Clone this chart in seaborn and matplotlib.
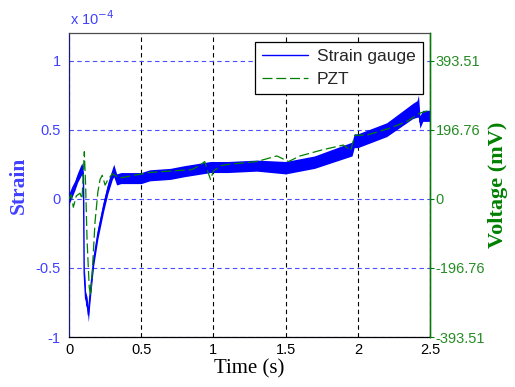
import numpy as np
import pandas as pd
import matplotlib
matplotlib.use("Agg")
import matplotlib.pyplot as plt
import seaborn as sns
from matplotlib.lines import Line2D

# ---------------- data ----------------
# Strain gauge (units of 1e-4): noisy band described by lower / upper envelope
strain_t = [0.00, 0.02, 0.04, 0.06, 0.08, 0.09, 0.10, 0.105, 0.115, 0.125, 0.134, 0.145,
            0.17, 0.20, 0.24, 0.27, 0.30, 0.31, 0.33, 0.36, 0.50, 0.56, 0.70, 0.80, 0.98,
            1.10, 1.30, 1.50, 1.70, 1.96, 1.975, 2.00, 2.20, 2.38, 2.41, 2.42, 2.43, 2.45, 2.50]
strain_lo = [-0.04, 0.01, 0.06, 0.12, 0.16, 0.18, 0.11, -0.61, -0.77, -0.79, -0.89, -0.75,
             -0.49, -0.29, -0.09, 0.04, 0.14, 0.16, 0.10, 0.11, 0.11, 0.13, 0.14, 0.16, 0.19,
             0.19, 0.20, 0.18, 0.22, 0.31, 0.37, 0.37, 0.45, 0.58, 0.59, 0.59, 0.51, 0.56, 0.56]
strain_hi = [0.04, 0.09, 0.13, 0.19, 0.24, 0.26, 0.19, -0.46, -0.67, -0.71, -0.79, -0.65,
             -0.41, -0.21, -0.01, 0.12, 0.22, 0.25, 0.18, 0.19, 0.19, 0.21, 0.22, 0.24, 0.27,
             0.27, 0.28, 0.27, 0.31, 0.41, 0.47, 0.47, 0.55, 0.69, 0.71, 0.75, 0.60, 0.64, 0.64]

# PZT voltage (mV)
pzt_t = [0.00, 0.015, 0.03, 0.05, 0.076, 0.09, 0.10, 0.106, 0.115, 0.125, 0.14, 0.15, 0.16,
         0.18, 0.20, 0.215, 0.23, 0.25, 0.27, 0.30, 0.35, 0.45, 0.56, 0.70, 0.85, 0.90, 0.94,
         0.96, 0.98, 1.00, 1.05, 1.10, 1.30, 1.44, 1.52, 1.60, 1.76, 1.90, 1.95, 1.98, 2.06,
         2.22, 2.34, 2.43, 2.50]
pzt_mv = [0, 12, -24, 8, 16, 0, 79, 134, 39, -118, -252, -275, -216,
          -67, 20, 55, 67, 39, 55, 71, 59, 67, 75, 79, 83, 94, 106,
          79, 55, 79, 94, 98, 106, 122, 106, 122, 140, 153, 138, 181, 181,
          201, 220, 244, 252]

x_ticks = [0, 0.5, 1, 1.5, 2, 2.5]
x_ticklabels = ["0", "0.5", "1", "1.5", "2", "2.5"]
left_ticks = [-1, -0.5, 0, 0.5, 1]
left_ticklabels = ["-1", "-0.5", "0", "0.5", "1"]
right_ticks = [-393.51, -196.76, 0, 196.76, 393.51]
right_ticklabels = ["-393.51", "-196.76", "0", "196.76", "393.51"]

# ---------------- style ----------------
sns.set_style("white")
plt.rcParams["font.family"] = ["Liberation Sans", "DejaVu Sans"]

BLUE = (0.0, 0.0, 1.0)
BLUE_TXT = (0.25, 0.25, 1.0)
GREEN = (0.0, 0.5, 0.0)
GREEN_TXT = (0.15, 0.55, 0.15)

fig = plt.figure(figsize=(5.15, 3.87), dpi=100)
ax = fig.add_axes([0.134, 0.129, 0.701, 0.786])
ax2 = ax.twinx()

# strain gauge
df_s = pd.DataFrame({"t": strain_t, "lo": strain_lo, "hi": strain_hi})
df_s["mid"] = (df_s["lo"] + df_s["hi"]) / 2
ax.fill_between(df_s["t"], df_s["lo"], df_s["hi"], color=BLUE, lw=0, zorder=3)
sns.lineplot(data=df_s, x="t", y="mid", ax=ax, color=BLUE, lw=1.0,
             estimator=None, sort=False, legend=False, zorder=4)

# PZT
df_p = pd.DataFrame({"t": pzt_t, "mv": pzt_mv})
sns.lineplot(data=df_p, x="t", y="mv", ax=ax2, color=GREEN, lw=0.9,
             linestyle=(0, (8, 3)), estimator=None, sort=False, legend=False)

# limits & ticks
ax.set_xlim(0, 2.5)
ax.set_ylim(-1, 1.2)
ax2.set_ylim(-393.51, 393.51 * 1.2)

ax.set_xticks(x_ticks)
ax.set_xticklabels(x_ticklabels, fontsize=10.5, color="black")
ax.set_yticks(left_ticks)
ax.set_yticklabels(left_ticklabels, fontsize=10.5, color=BLUE_TXT)
ax2.set_yticks(right_ticks)
ax2.set_yticklabels(right_ticklabels, fontsize=10.5, color=GREEN_TXT)

ax.tick_params(axis="x", direction="in", length=3, pad=4, color="black")
ax.tick_params(axis="y", direction="in", length=0, pad=6)
ax2.tick_params(axis="y", direction="out", length=3, pad=1, color=GREEN)

# grid
ax.xaxis.grid(True, color="black", ls=(0, (4, 3)), lw=0.8)
ax.yaxis.grid(True, color=(0.3, 0.3, 1.0), ls=(0, (4, 3)), lw=0.8)
ax.set_axisbelow(True)

# spines
for sp in ax.spines.values():
    sp.set_linewidth(0.9)
ax.spines["bottom"].set_color("black")
ax.spines["top"].set_color((0.3, 0.3, 0.3))
ax.spines["left"].set_color((0.1, 0.1, 0.5))
ax2.spines["right"].set_color(GREEN)
ax2.spines["right"].set_linewidth(1.0)
ax2.spines["left"].set_visible(False)
ax2.spines["top"].set_visible(False)
ax2.spines["bottom"].set_visible(False)

# labels
ax.set_xlabel("Time (s)", family=["Liberation Serif"], fontsize=15, color="black", labelpad=2)
ax.set_ylabel("Strain", family=["Liberation Serif"], fontweight="bold", fontsize=15.5,
              color=BLUE_TXT)
ax.yaxis.set_label_coords(-0.112, 0.5)
ax2.set_ylabel("Voltage (mV)", family=["Liberation Serif"], fontweight="bold", fontsize=16,
               color=GREEN)
ax2.yaxis.set_label_coords(1.16, 0.5)

fig.text(0.135, 0.935, r"x 10$^{-4}$", color=BLUE_TXT, fontsize=10.5)

# legend
handles = [Line2D([], [], color=BLUE, lw=1.0),
           Line2D([], [], color=GREEN, lw=0.9, ls=(0, (8, 3)))]
leg = ax2.legend(handles, ["Strain gauge", "PZT"], loc="upper right",
                 bbox_to_anchor=(0.98, 0.97), fontsize=12.5, frameon=True,
                 fancybox=False, edgecolor="black", framealpha=1,
                 handlelength=2.7, borderpad=0.4, labelspacing=0.45, handletextpad=0.5,
                 borderaxespad=0.0)
leg.get_frame().set_linewidth(0.9)

fig.savefig("out.png", dpi=100)
